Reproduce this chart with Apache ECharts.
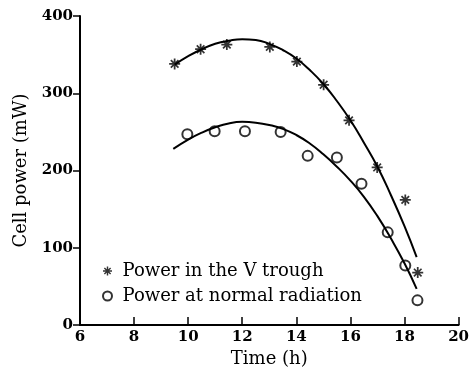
<!DOCTYPE html>
<html>
<head>
<meta charset="utf-8">
<script src="https://cdn.jsdelivr.net/npm/echarts@6/dist/echarts.min.js"></script>
<style>
    html, body { margin: 0; padding: 0; background: #fff; }
    #chart { width: 472px; height: 373px; }
</style>
</head>
<body>
<div id="chart"></div>
<script>
// 测量点：V 型槽
var troughTime = [9.5, 10.46, 11.43, 13.02, 14.02, 15.01, 15.95, 16.99, 18.03, 18.49];
var troughPower = [338, 357, 363, 360, 341, 311, 265, 204, 162, 68];

// 测量点：正常辐射
var normalTime = [9.97, 10.98, 12.1, 13.42, 14.42, 15.5, 16.41, 17.38, 18.03, 18.48];
var normalPower = [247, 251, 251, 250, 219, 217, 183, 120, 77, 32];

// 拟合曲线
var troughFitTime = [9.5, 10, 10.5, 11, 11.5, 12, 12.5, 13, 13.5, 14, 14.5, 15, 15.5, 16, 16.5, 17, 17.5, 18, 18.45];
var troughFitPower = [337, 348, 357, 364, 368, 370, 369, 364, 356, 345, 330, 312, 290, 265, 236, 205, 168, 128, 88];

var normalFitTime = [9.45, 10, 10.5, 11, 11.5, 12, 12.5, 13, 13.5, 14, 14.5, 15, 15.5, 16, 16.5, 17, 17.5, 18, 18.45];
var normalFitPower = [228, 240, 249, 256, 261, 263, 262, 259, 254, 246, 235, 221, 205, 187, 166, 141, 112, 80, 47];

var troughName = 'Power in the V trough';
var normalName = 'Power at normal radiation';

// 星号符号
var starPath = 'path://M0 4.2 L10 4.2 L10 5.8 L0 5.8 Z M4.2 0 L5.8 0 L5.8 10 L4.2 10 Z ' +
    'M1 2.1 L2.1 1 L9 7.9 L7.9 9 Z M7.9 1 L9 2.1 L2.1 9 L1 7.9 Z';

function pairs(xs, ys) {
    var out = [];
    for (var i = 0; i < xs.length; i++) {
        out.push([xs[i], ys[i]]);
    }
    return out;
}

var serifFont = 'DejaVu Serif';

var myChart = echarts.init(document.getElementById('chart'));

var option = {
    backgroundColor: '#fff',
    animation: false,
    grid: {
        left: 80,
        right: 10,
        top: 16,
        bottom: 45
    },
    legend: {
        data: [troughName, normalName],
        orient: 'vertical',
        left: 97,
        top: 257,
        itemWidth: 20,
        itemHeight: 9,
        itemGap: 7,
        textStyle: {
            fontFamily: serifFont,
            fontSize: 18,
            lineHeight: 18,
            color: '#000'
        }
    },
    xAxis: {
        type: 'value',
        min: 6,
        max: 20,
        interval: 2,
        name: 'Time (h)',
        nameLocation: 'middle',
        nameGap: 17,
        nameTextStyle: {
            fontFamily: serifFont,
            fontSize: 18,
            color: '#000'
        },
        axisLine: { lineStyle: { color: '#000', width: 2 } },
        axisTick: { inside: true, length: 8, lineStyle: { color: '#000', width: 1.5 } },
        axisLabel: {
            margin: 5,
            fontFamily: serifFont,
            fontSize: 15,
            fontWeight: 'bold',
            color: '#000'
        },
        splitLine: { show: false }
    },
    yAxis: {
        type: 'value',
        min: 0,
        max: 400,
        interval: 100,
        name: 'Cell power (mW)',
        nameLocation: 'middle',
        nameGap: 42,
        nameTextStyle: {
            fontFamily: serifFont,
            fontSize: 18,
            color: '#000'
        },
        axisLine: { show: true, lineStyle: { color: '#000', width: 2 } },
        axisTick: { show: true, length: 7, lineStyle: { color: '#000', width: 1.5 } },
        axisLabel: {
            margin: 7,
            fontFamily: serifFont,
            fontSize: 15,
            fontWeight: 'bold',
            color: '#000'
        },
        splitLine: { show: false }
    },
    series: [
        {
            name: 'trough fit',
            type: 'line',
            data: pairs(troughFitTime, troughFitPower),
            smooth: true,
            showSymbol: false,
            silent: true,
            lineStyle: { color: '#000', width: 2 }
        },
        {
            name: 'normal fit',
            type: 'line',
            data: pairs(normalFitTime, normalFitPower),
            smooth: true,
            showSymbol: false,
            silent: true,
            lineStyle: { color: '#000', width: 2 }
        },
        {
            name: troughName,
            type: 'scatter',
            data: pairs(troughTime, troughPower),
            symbol: starPath,
            symbolSize: 11,
            itemStyle: { color: '#000' }
        },
        {
            name: normalName,
            type: 'scatter',
            data: pairs(normalTime, normalPower),
            symbol: 'emptyCircle',
            symbolSize: 10,
            itemStyle: { color: '#000', borderColor: '#000', borderWidth: 1.3 }
        }
    ]
};

myChart.setOption(option);
</script>
</body>
</html>
